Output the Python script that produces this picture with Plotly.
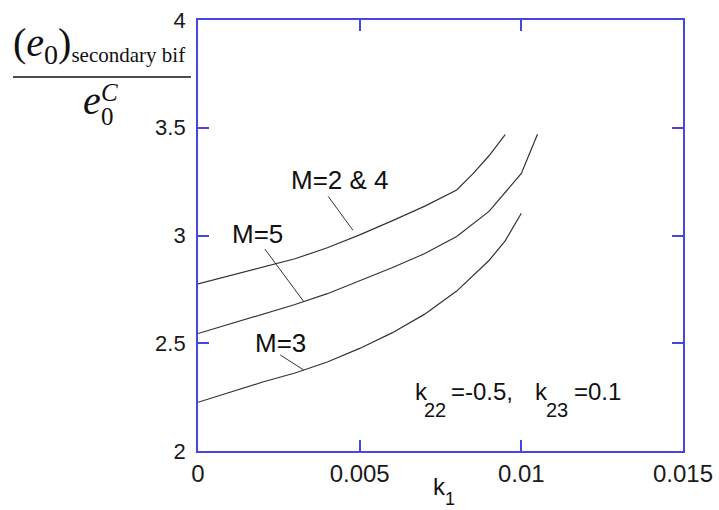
import numpy as np
import plotly.graph_objects as go

# ---- data ----
k1_M24 = [0, 0.001, 0.002, 0.003, 0.004, 0.005, 0.006, 0.007, 0.008, 0.0085, 0.009, 0.0095]
e_M24 = [2.775, 2.815, 2.855, 2.892, 2.943, 3.003, 3.068, 3.135, 3.211, 3.286, 3.370, 3.468]

k1_M5 = [0, 0.001, 0.002, 0.003, 0.004, 0.005, 0.006, 0.007, 0.008, 0.009, 0.0095, 0.010, 0.0105]
e_M5 = [2.545, 2.589, 2.634, 2.680, 2.730, 2.790, 2.850, 2.915, 2.995, 3.112, 3.200, 3.288, 3.470]

k1_M3 = [0, 0.001, 0.002, 0.003, 0.004, 0.005, 0.006, 0.007, 0.008, 0.009, 0.0095, 0.010]
e_M3 = [2.226, 2.273, 2.320, 2.362, 2.413, 2.476, 2.548, 2.634, 2.742, 2.884, 2.975, 3.103]

x_tickvals = [0, 0.005, 0.01, 0.015]
x_ticktext = ["0", "0.005", "0.01", "0.015"]
y_tickvals = [2, 2.5, 3, 3.5, 4]
y_ticktext = ["2", "2.5", "3", "3.5", "4"]

# ---- layout geometry ----
W, H = 719, 510
L, R, T, B = 198, 36, 20, 59
PW, PH = W - L - R, H - T - B
BLUE = "#4646e6"
INK = "#111111"
SANS = "Liberation Sans, Arial, sans-serif"
SERIF = "Liberation Serif, Times New Roman, serif"


def px(x):
    return (x - L) / PW


def py(y):
    return (H - B - y) / PH


def label(text, x, y, size, family=SANS, xanchor="left", yanchor="middle"):
    return dict(x=px(x), y=py(y), xref="paper", yref="paper", text=text,
                showarrow=False, xanchor=xanchor, yanchor=yanchor,
                font=dict(family=family, size=size, color=INK))


fig = go.Figure()
for xs, ys in [(k1_M24, e_M24), (k1_M5, e_M5), (k1_M3, e_M3)]:
    fig.add_trace(go.Scatter(x=xs, y=ys, mode="lines",
                             line=dict(color="#333333", width=1.2),
                             showlegend=False, hoverinfo="skip"))

ann = []
# curve labels with leader lines pointing at the curves
for text, xs, ys, xh, ax, ay, so, cx, cy in [
    ("M=2 & 4", k1_M24, e_M24, 0.00492, -30, -41, 7, 340, 180),
    ("M=5", k1_M5, e_M5, 0.00327, -40, -54, 0, 257, 234),
    ("M=3", k1_M3, e_M3, 0.00327, -25, -16, 0, 280, 343),
]:
    yh = float(np.interp(xh, xs, ys))
    ann.append(dict(x=xh, y=yh, xref="x", yref="y", text="", showarrow=True,
                    arrowhead=0, arrowwidth=1, arrowcolor="#333333",
                    ax=ax, ay=ay, standoff=so))
    ann.append(label(text, cx, cy, 26, xanchor="center"))

# parameter note  k22=-0.5,  k23=0.1
ann += [
    label("k", 413, 391, 24),
    label("22", 422, 410, 20),
    label("=-0.5,", 449, 391, 24),
    label("k", 533, 391, 24),
    label("23", 544, 410, 20),
    label("=0.1", 572, 391, 24),
]

# x axis title k1
ann += [
    label("k", 431, 486, 24),
    label("1", 443, 499, 18),
]

# y axis title as a fraction
ann.append(label("<span style='font-size:40px'>(<i>e</i><sub>0</sub>)</span><sub>secondary bif</sub>",
                 11, 45, 30, family=SERIF))
ann.append(label("<i>e</i>", 81, 100, 40, family=SERIF))
ann.append(label("0", 99, 117, 25, family=SERIF))
ann.append(label("<i>C</i>", 99, 92, 25, family=SERIF))

shapes = [dict(type="line", xref="paper", yref="paper",
               x0=px(13), x1=px(191), y0=py(77), y1=py(77),
               line=dict(color=INK, width=1.3))]

axis_common = dict(showline=True, linecolor=BLUE, linewidth=1.8, mirror="ticks",
                   ticks="inside", ticklen=11, tickwidth=1.6, tickcolor=BLUE,
                   showgrid=False, zeroline=False, automargin=False)

fig.update_layout(
    width=W, height=H,
    margin=dict(l=L, r=R, t=T, b=B),
    paper_bgcolor="white", plot_bgcolor="white",
    xaxis=dict(range=[0, 0.015], tickvals=x_tickvals, ticktext=x_ticktext,
               tickfont=dict(family=SANS, size=24, color="#1a1a1a"), **axis_common),
    yaxis=dict(range=[2, 4], tickvals=y_tickvals, ticktext=y_ticktext,
               ticklabelstandoff=6,
               tickfont=dict(family=SANS, size=22, color="#1a1a1a"), **axis_common),
    annotations=ann,
    shapes=shapes,
)

fig.write_html("out.html", config={"displayModeBar": False},
               post_script="document.body.style.margin='0';document.body.style.overflow='hidden';")
